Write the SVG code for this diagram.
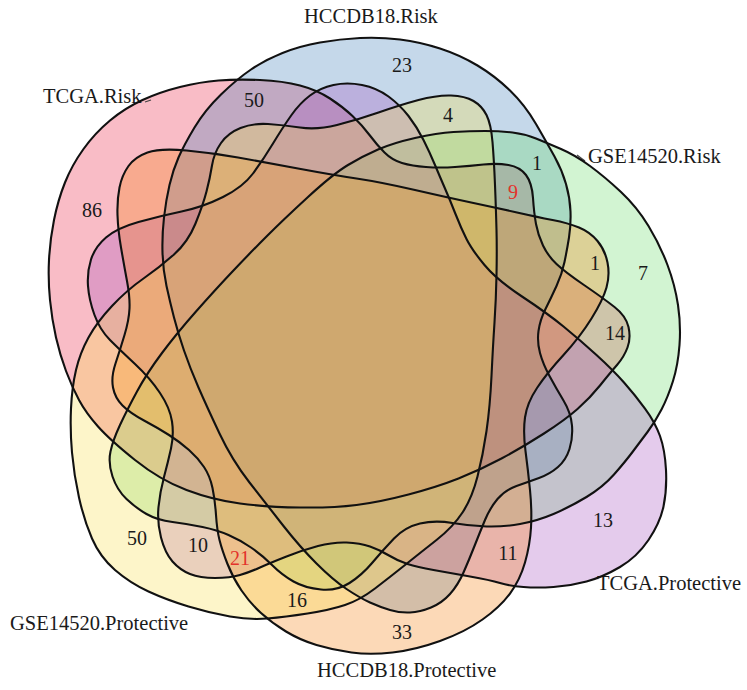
<svg xmlns="http://www.w3.org/2000/svg" xmlns:xlink="http://www.w3.org/1999/xlink" width="747" height="690" viewBox="0 0 747 690">
<style>
.set{fill-opacity:0.3;stroke:none}
.edge{fill:none;stroke:#111;stroke-width:2.1}
.lbl{font-family:"Liberation Serif","Times New Roman",serif;font-size:20.5px;fill:#1a1a1a}
.num{font-family:"Liberation Serif","Times New Roman",serif;font-size:20px;fill:#1a1a1a;text-anchor:middle}
.red{fill:#e3322b}
.tick{stroke:#444;stroke-width:1.2}
</style>
<defs>
<path id="pP" d="M79,400 Q72,387 66,371 Q60,355 56,337.5 Q52,320 50,300 Q48,280 49,260 Q50,240 54,220 Q58,200 65,182.5 Q72,165 83.5,149 Q95,133 110,120.5 Q125,108 142.5,100 Q160,92 180,87 Q200,82 218.5,80.5 Q237,79 260,80 Q283,81 300,85.5 Q317,90 330,98.5 Q343,107 352.5,116 Q362,125 369.5,135 Q377,145 384.5,152.5 Q392,160 402,163 Q412,166 426,167 Q440,168 455,167 Q470,166 483.5,164.5 Q497,163 508.5,165 Q520,167 526,175 Q532,183 533,198 Q534,213 536,224 Q538,235 543,245.5 Q548,256 556.5,264 Q565,272 584,285 Q603,298 614.5,307 Q626,316 628.5,327 Q631,338 627.5,347.5 Q624,357 617,365 Q610,373 600,385.5 Q590,398 577.5,409 Q565,420 544,433.5 Q523,447 501.5,458.5 Q480,470 458.5,478.5 Q437,487 408.5,494.5 Q380,502 356.5,505 Q333,508 300,507.5 Q267,507 240,503.5 Q213,500 186.5,490 Q160,480 135,460 Q110,440 98,426.5 Q86,413 79,400 Z"/>
<path id="pB" d="M166.5,286 Q163,270 162.5,252.5 Q162,235 164,217.5 Q166,200 169.5,185 Q173,170 178.5,157.5 Q184,145 194.5,127.5 Q205,110 221,94.5 Q237,79 251,69.5 Q265,60 282.5,53 Q300,46 320,42.5 Q340,39 360,38 Q380,37 400,39.5 Q420,42 440,48.5 Q460,55 477.5,65.5 Q495,76 510,90.5 Q525,105 536,124 Q547,143 554.5,156.5 Q562,170 566,184 Q570,198 570.5,211.5 Q571,225 569,237.5 Q567,250 564.5,262 Q562,274 556.5,286 Q551,298 545.5,309 Q540,320 538.5,331 Q537,342 540,353 Q543,364 549.5,376 Q556,388 563.5,400.5 Q571,413 572,425.5 Q573,438 569.5,449 Q566,460 558,467 Q550,474 539,478 Q528,482 516.5,486 Q505,490 497.5,499 Q490,508 485,520 Q480,532 474.5,546 Q469,560 463.5,572.5 Q458,585 450,594 Q442,603 431,607.5 Q420,612 410,612.5 Q400,613 390,610 Q380,607 370,602.5 Q360,598 346.5,589 Q333,580 316.5,563.5 Q300,547 283.5,526 Q267,505 249.5,482.5 Q232,460 219.5,433.5 Q207,407 198.5,387.5 Q190,368 184,350.5 Q178,333 174,317.5 Q170,302 166.5,286 Z"/>
<path id="pG" d="M378,149.5 Q393,143 415,138 Q437,133 453.5,132 Q470,131 485,131 Q500,131 512.5,132.5 Q525,134 536,138.5 Q547,143 561,149 Q575,155 590,166 Q605,177 621,192 Q637,207 648.5,226 Q660,245 667.5,265 Q675,285 678,305 Q681,325 679.5,345 Q678,365 673,381 Q668,397 661.5,409.5 Q655,422 647.5,432 Q640,442 632.5,452 Q625,462 614,474.5 Q603,487 586.5,497 Q570,507 553.5,514 Q537,521 520,524 Q503,527 486.5,526.5 Q470,526 452.5,523 Q435,520 420,523.5 Q405,527 394,538.5 Q383,550 372.5,562.5 Q362,575 349.5,583 Q337,591 321,589.5 Q305,588 293.5,581.5 Q282,575 272,565 Q262,555 251,547.5 Q240,540 228.5,535 Q217,530 202.5,527 Q188,524 172.5,522 Q157,520 146.5,514 Q136,508 126.5,499 Q117,490 112.5,476.5 Q108,463 110.5,451.5 Q113,440 120,425 Q127,410 137,391.5 Q147,373 162,353 Q177,333 196,311.5 Q215,290 232.5,271.5 Q250,253 266.5,236.5 Q283,220 308,197 Q333,174 348,165 Q363,156 378,149.5 Z"/>
<path id="pU" d="M333.5,85 Q347,82 362,85 Q377,88 388.5,96.5 Q400,105 408.5,116 Q417,127 423.5,140 Q430,153 435,165 Q440,177 445,188.5 Q450,200 455.5,214 Q461,228 466.5,239 Q472,250 484.5,265 Q497,280 522,296.5 Q547,313 563.5,326.5 Q580,340 596.5,355 Q613,370 624,382.5 Q635,395 645,408.5 Q655,422 660,436 Q665,450 666,470 Q667,490 663.5,506.5 Q660,523 648.5,540 Q637,557 620,567 Q603,577 586.5,581.5 Q570,586 553.5,587 Q537,588 523.5,587 Q510,586 500,583 Q490,580 470,576.5 Q450,573 433.5,570 Q417,567 407.5,564 Q398,561 389,555.5 Q380,550 370,546.5 Q360,543 346.5,542.5 Q333,542 318,546 Q303,550 286.5,556.5 Q270,563 260,567.5 Q250,572 240,575 Q230,578 215,578 Q200,578 190,574 Q180,570 172.5,561.5 Q165,553 161,537.5 Q157,522 158.5,507 Q160,492 164,477 Q168,462 171,448.5 Q174,435 172,421.5 Q170,408 160,393 Q150,378 135,364 Q120,350 110,340 Q100,330 94.5,315 Q89,300 88,286 Q87,272 91,259.5 Q95,247 106,237.5 Q117,228 138.5,222 Q160,216 181.5,211.5 Q203,207 223,197 Q243,187 253,173.5 Q263,160 273,143.5 Q283,127 291.5,115 Q300,103 310,95.5 Q320,88 333.5,85 Z"/>
<path id="pO" d="M147.5,152.5 Q160,148 186.5,150.5 Q213,153 238,157.5 Q263,162 298,168.5 Q333,175 356.5,178.5 Q380,182 415,190 Q450,198 473.5,203 Q497,208 517,212.5 Q537,217 552.5,220 Q568,223 579,227.5 Q590,232 597.5,241 Q605,250 607.5,262.5 Q610,275 606.5,287.5 Q603,300 591.5,318.5 Q580,337 563.5,355 Q547,373 537,388 Q527,403 525,417.5 Q523,432 525.5,451 Q528,470 530,490 Q532,510 531,527.5 Q530,545 525,562.5 Q520,580 510,593.5 Q500,607 482.5,619.5 Q465,632 440,641 Q415,650 392.5,652.5 Q370,655 351.5,652.5 Q333,650 316.5,645 Q300,640 286,631.5 Q272,623 261,613 Q250,603 241.5,590.5 Q233,578 227.5,564 Q222,550 219.5,540 Q217,530 216,515 Q215,500 212.5,488 Q210,476 204,467 Q198,458 189,450 Q180,442 169,435 Q158,428 144,420.5 Q130,413 122.5,405.5 Q115,398 113,387.5 Q111,377 115.5,363.5 Q120,350 124.5,335 Q129,320 129.5,308.5 Q130,297 127,281 Q124,265 121,247.5 Q118,230 117.5,215 Q117,200 119.5,187.5 Q122,175 128.5,166 Q135,157 147.5,152.5 Z"/>
<path id="pY" d="M71,408.5 Q72,387 76,370 Q80,353 88.5,337.5 Q97,322 112,306 Q127,290 143.5,278.5 Q160,267 174,254.5 Q188,242 195.5,223.5 Q203,205 206.5,191.5 Q210,178 212,165.5 Q214,153 221,143 Q228,133 240.5,128 Q253,123 268,124 Q283,125 300,127.5 Q317,130 337,125 Q357,120 378.5,112.5 Q400,105 418.5,100 Q437,95 451,95.5 Q465,96 473.5,101 Q482,106 486.5,115 Q491,124 492.5,142 Q494,160 495,185 Q496,210 496.5,230 Q497,250 496.5,275 Q496,300 494.5,322.5 Q493,345 491.5,376 Q490,407 486.5,431 Q483,455 477.5,476.5 Q472,498 462.5,512.5 Q453,527 436.5,540 Q420,553 405,565 Q390,577 375,588.5 Q360,600 345,605 Q330,610 307.5,613.5 Q285,617 267.5,618.5 Q250,620 230,616.5 Q210,613 188.5,606.5 Q167,600 148.5,591.5 Q130,583 115,570 Q100,557 92,538.5 Q84,520 79,497.5 Q74,475 72,452.5 Q70,430 71,408.5 Z"/>
</defs>
<rect width="747" height="690" fill="#ffffff"/>
<g id="set-tcga-risk">
<use xlink:href="#pP" class="set" fill="#EB2041"/>
<text class="lbl" x="43" y="103">TCGA.Risk</text>
<line class="tick" x1="145" y1="102" x2="151" y2="100"/>
</g>
<g id="set-hccdb18-risk">
<use xlink:href="#pB" class="set" fill="#3E7DB9"/>
<text class="lbl" x="304" y="23">HCCDB18.Risk</text>
</g>
<g id="set-gse14520-risk">
<use xlink:href="#pG" class="set" fill="#69DA69"/>
<text class="lbl" x="588" y="163">GSE14520.Risk</text>
<line class="tick" x1="577" y1="155" x2="585" y2="161"/>
</g>
<g id="set-tcga-protective">
<use xlink:href="#pU" class="set" fill="#A552C0"/>
<text class="lbl" x="597" y="590">TCGA.Protective</text>
</g>
<g id="set-hccdb18-protective">
<use xlink:href="#pO" class="set" fill="#F58012"/>
<text class="lbl" x="317" y="677">HCCDB18.Protective</text>
</g>
<g id="set-gse14520-protective">
<use xlink:href="#pY" class="set" fill="#F8DE4B"/>
<text class="lbl" x="10" y="630">GSE14520.Protective</text>
</g>
<g id="connectors">
<use xlink:href="#pP" class="edge"/>
<use xlink:href="#pB" class="edge"/>
<use xlink:href="#pG" class="edge"/>
<use xlink:href="#pU" class="edge"/>
<use xlink:href="#pO" class="edge"/>
<use xlink:href="#pY" class="edge"/>
</g>
<g id="counts">
<text class="num" x="402" y="72">23</text>
<text class="num" x="254" y="107">50</text>
<text class="num" x="448" y="122">4</text>
<text class="num" x="537" y="170">1</text>
<text class="num red" x="513" y="199">9</text>
<text class="num" x="595" y="270">1</text>
<text class="num" x="643" y="280">7</text>
<text class="num" x="615" y="340">14</text>
<text class="num" x="92" y="217">86</text>
<text class="num" x="603" y="527">13</text>
<text class="num" x="508" y="560">11</text>
<text class="num" x="402" y="639">33</text>
<text class="num" x="137" y="545">50</text>
<text class="num" x="198" y="552">10</text>
<text class="num red" x="240" y="565">21</text>
<text class="num" x="297" y="607">16</text>
</g>
</svg>
